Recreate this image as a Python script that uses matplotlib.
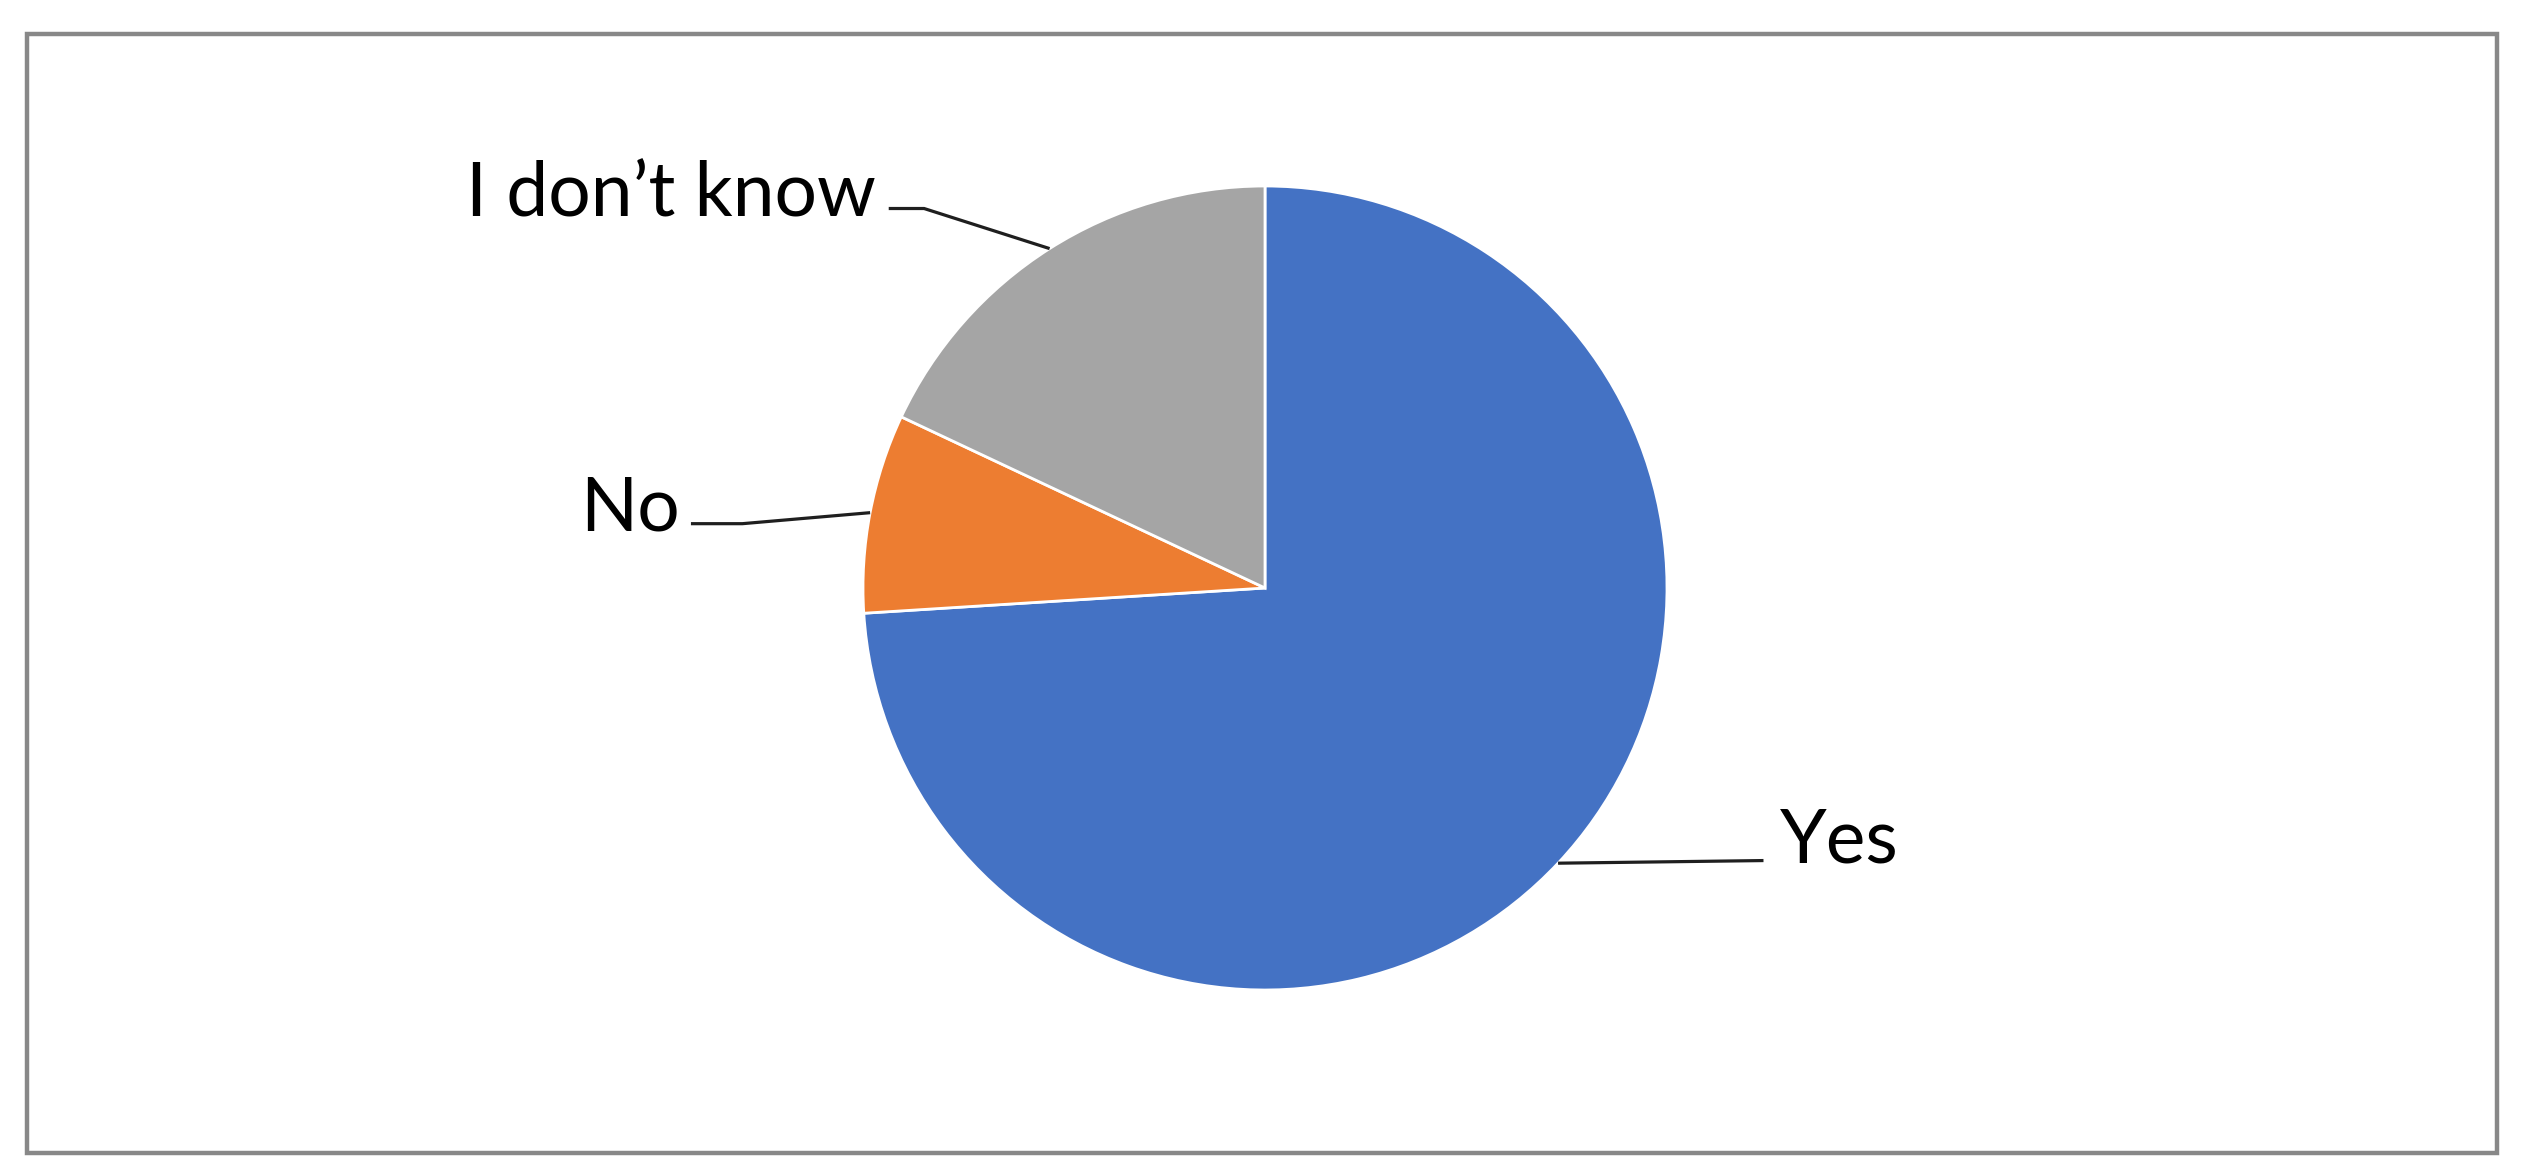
import numpy as np
import matplotlib
matplotlib.use("Agg")
import matplotlib.pyplot as plt
from matplotlib.patches import Rectangle

# Data
categories = ["Yes", "No", "I don\u2019t know"]
values = [74, 8, 18]
colors = ["#4472C4", "#ED7D31", "#A5A5A5"]

W, H, DPI = 2521, 1174, 100
fig = plt.figure(figsize=(W / DPI, H / DPI), dpi=DPI)
fig.patch.set_facecolor("white")

# chart border
fig.patches.append(Rectangle((27 / W, 1 - 1153 / H), (2497 - 27) / W, (1153 - 34) / H,
                             transform=fig.transFigure, fill=False,
                             edgecolor="#888888", linewidth=3.2))

ax = fig.add_axes([0, 0, 1, 1])
cx, cy, R = 1265, 588, 402  # pixel layout of the pie
wedges, _ = ax.pie(values, colors=colors, startangle=90, counterclock=False,
                   radius=1.0, center=(0, 0),
                   wedgeprops=dict(edgecolor="white", linewidth=2.0))
ax.set_xlim(-cx / R, (W - cx) / R)
ax.set_ylim(-(H - cy) / R, cy / R)
ax.set_aspect("auto")
ax.axis("off")

# label layout: (text x, text y, ha, elbow x, line end x, line y)
layout = {
    "Yes": dict(tx=1.281, ty=-0.684, ha="left", elbow=None, end=1.24, ly=-0.678),
    "No": dict(tx=-1.455, ty=0.142, ha="right", elbow=-1.30, end=-1.428, ly=0.160),
    "I don\u2019t know": dict(tx=-0.968, ty=0.923, ha="right", elbow=-0.848, end=-0.936, ly=0.944),
}

font = ["Lato", "DejaVu Sans"]
line_color = "#1f1f1f"
for w, cat in zip(wedges, categories):
    mid = np.deg2rad((w.theta1 + w.theta2) / 2)
    px, py = np.cos(mid), np.sin(mid)
    L = layout[cat]
    if L["elbow"] is None:
        xs = [px, L["end"]]
        ys = [py, L["ly"]]
    else:
        xs = [px, L["elbow"], L["end"]]
        ys = [py, L["ly"], L["ly"]]
    ax.plot(xs, ys, color=line_color, linewidth=2.3, solid_capstyle="butt", zorder=1)
    ax.text(L["tx"], L["ty"], cat, ha=L["ha"], va="baseline", fontsize=54,
            family=font, color="black")

fig.savefig("out.png", dpi=DPI, facecolor="white")
